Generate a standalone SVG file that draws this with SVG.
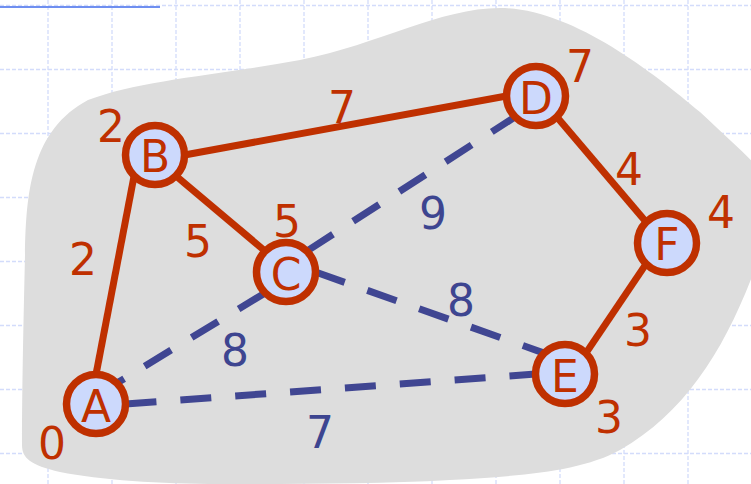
<svg xmlns="http://www.w3.org/2000/svg" width="751" height="484" viewBox="0 0 751 484">
<style>
.grid{stroke:#d3dcfb;stroke-width:1.3;stroke-dasharray:4 2;fill:none}
.red{stroke:#bf3000;stroke-width:7;fill:none}
.blue{stroke:#404692;stroke-width:7;fill:none;stroke-dasharray:31 24}
.node circle{fill:#ccd9fc;stroke:#bf3000;stroke-width:7.5}
.node text{font-family:"DejaVu Sans",Verdana,sans-serif;font-size:44px;fill:#bf3000;text-anchor:middle}
.lr{font-family:"DejaVu Sans",Verdana,sans-serif;font-size:44px;fill:#bf3000;text-anchor:middle}
.lb{font-family:"DejaVu Sans",Verdana,sans-serif;font-size:44px;fill:#3d4590;text-anchor:middle}
</style>
<rect width="751" height="484" fill="#ffffff"/>
<g id="grid">
<path class="grid" d="M48 0V484M112 0V484M176 0V484M240 0V484M304 0V484M368 0V484M432 0V484M496 0V484M560 0V484M624 0V484M688 0V484"/>
<path class="grid" d="M0 5.5H751M0 69.5H751M0 133.5H751M0 197.5H751M0 261.5H751M0 325.5H751M0 389.5H751M0 453.5H751"/>
</g>
<line x1="0" y1="7" x2="160" y2="7" stroke="#6f8ff0" stroke-width="2.2"/>
<path id="blob" fill="#dddddd" d="M22 445 C22 380 24 300 25 255 C26 190 32 130 88 100 C140 80 220 75 300 60 C380 44 440 8 500 8 C570 8 650 70 700 112 C730 140 752 160 760 170 L760 255 C730 340 690 410 620 450 C580 472 520 476 450 480 C380 484 300 484 220 484 C160 484 100 480 60 472 C30 465 22 458 22 445 Z"/>
<g id="connectors">
<line class="red" x1="96" y1="374.5" x2="134.1" y2="175.9"/>
<line class="red" x1="184.5" y1="155" x2="506.5" y2="96"/>
<line class="red" x1="175.9" y1="175.9" x2="265.1" y2="251.1"/>
<line class="red" x1="556.9" y1="116.9" x2="646.1" y2="222.1"/>
<line class="red" x1="646.1" y1="263.9" x2="585.9" y2="353.1"/>
<line class="blue" x1="265.1" y1="292.9" x2="116.9" y2="383.1"/>
<line class="blue" x1="306.9" y1="251.1" x2="515.1" y2="116.9"/>
<line class="blue" x1="315.5" y1="272" x2="544.1" y2="353.1"/>
<line class="blue" x1="125.5" y1="404" x2="535.5" y2="374"/>
</g>
<g id="node-A" class="node"><circle cx="96" cy="404" r="29.5"/><text x="96" y="422">A</text></g>
<g id="node-B" class="node"><circle cx="155" cy="155" r="29.5"/><text x="155" y="172">B</text></g>
<g id="node-C" class="node"><circle cx="286" cy="272" r="29.5"/><text x="286" y="290">C</text></g>
<g id="node-D" class="node"><circle cx="536" cy="96" r="29.5"/><text x="536" y="114">D</text></g>
<g id="node-E" class="node"><circle cx="565" cy="374" r="29.5"/><text x="565" y="392">E</text></g>
<g id="node-F" class="node"><circle cx="667" cy="243" r="29.5"/><text x="667" y="260">F</text></g>
<g id="labels">
<text class="lr" x="111" y="142">2</text>
<text class="lr" x="83" y="275">2</text>
<text class="lr" x="198" y="257">5</text>
<text class="lr" x="287" y="237">5</text>
<text class="lr" x="342" y="123">7</text>
<text class="lr" x="580" y="82">7</text>
<text class="lr" x="629" y="185">4</text>
<text class="lr" x="721" y="228">4</text>
<text class="lr" x="638" y="346">3</text>
<text class="lr" x="609" y="433">3</text>
<text class="lr" x="52" y="459">0</text>
<text class="lb" x="433" y="229">9</text>
<text class="lb" x="461" y="316">8</text>
<text class="lb" x="235" y="366">8</text>
<text class="lb" x="320" y="448">7</text>
</g>
</svg>
